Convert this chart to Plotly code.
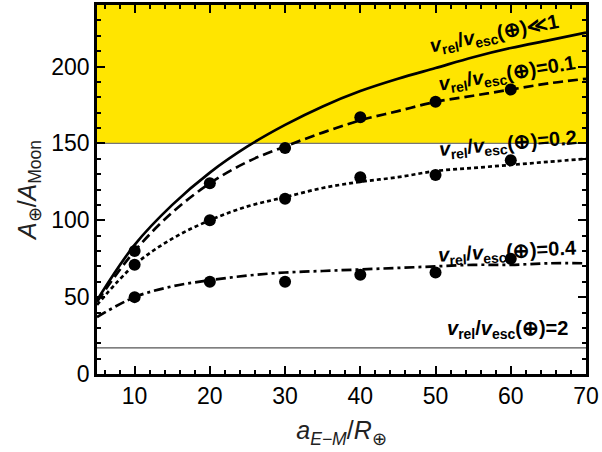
import plotly.graph_objects as go

# sampled curve x positions
x_curve = [5, 10, 15, 20, 25, 30, 35, 40, 45, 50, 55, 60, 65, 70]
# curves
y_ll1 = [48, 84, 110, 131, 148, 162, 174, 184, 192, 199, 206, 212, 217, 222]
y_01 = [47, 80, 105, 124, 138, 148, 157, 165, 171, 177, 181, 185, 189, 192]
y_02 = [45, 71, 88, 100, 109, 115, 121, 125, 128, 132, 134, 136, 138, 140]
y_04 = [37, 50, 57, 61, 64, 66, 67, 68, 69, 70, 71, 71, 72, 72]
y_2 = [17, 17]
x_2 = [5, 70]

# simulation points
x_pts = [10, 20, 30, 40, 50, 60]
p_01 = [80, 124, 147, 167, 177, 185]
p_02 = [71, 100, 114, 128, 129.5, 139]
p_04 = [50, 60, 60, 64.5, 66, 75]

labels = [
    "<i>v</i><sub>rel</sub>/<i>v</i><sub>esc</sub>(⊕)≪1",
    "<i>v</i><sub>rel</sub>/<i>v</i><sub>esc</sub>(⊕)=0.1",
    "<i>v</i><sub>rel</sub>/<i>v</i><sub>esc</sub>(⊕)=0.2",
    "<i>v</i><sub>rel</sub>/<i>v</i><sub>esc</sub>(⊕)=0.4",
    "<i>v</i><sub>rel</sub>/<i>v</i><sub>esc</sub>(⊕)=2",
]
label_x = [57.9, 59.5, 59.6, 59.6, 59.6]
label_y = [221, 195, 149, 79, 29]
label_angle = [-11, -9, -5, -3, 0]

FONT = "Liberation Sans"

fig = go.Figure()

fig.add_shape(type="rect", xref="x", yref="y", x0=5, x1=70, y0=150, y1=240,
              fillcolor="#FFE500", line=dict(width=0), layer="below")
fig.add_shape(type="line", xref="x", yref="y", x0=5, x1=70, y0=150, y1=150,
              line=dict(color="#777777", width=1.2), layer="below")

fig.add_trace(go.Scatter(x=x_2, y=y_2, mode="lines",
                         line=dict(color="#555555", width=1.2)))
fig.add_trace(go.Scatter(x=x_curve, y=y_ll1, mode="lines", line_shape="spline",
                         line=dict(color="black", width=2.7)))
fig.add_trace(go.Scatter(x=x_curve, y=y_01, mode="lines", line_shape="spline",
                         line=dict(color="black", width=2.7, dash="10px,5px")))
fig.add_trace(go.Scatter(x=x_curve, y=y_02, mode="lines", line_shape="spline",
                         line=dict(color="black", width=2.7, dash="4px,3px")))
fig.add_trace(go.Scatter(x=x_curve, y=y_04, mode="lines", line_shape="spline",
                         line=dict(color="black", width=2.7, dash="10px,4px,3px,4px")))
for p in (p_01, p_02, p_04):
    fig.add_trace(go.Scatter(x=x_pts, y=p, mode="markers",
                             marker=dict(color="black", size=12)))

for t, lx, ly, ang in zip(labels, label_x, label_y, label_angle):
    fig.add_annotation(x=lx, y=ly, xref="x", yref="y", text="<b>" + t + "</b>",
                       showarrow=False, textangle=ang,
                       font=dict(family=FONT, size=20, color="black"))

axis_common = dict(
    showline=True, linecolor="black", linewidth=2.5, mirror="ticks",
    ticks="inside", ticklen=8, tickwidth=2, tickcolor="black",
    showgrid=False, zeroline=False, automargin=False,
    tickfont=dict(family=FONT, size=23, color="black"),
)

fig.update_xaxes(range=[5, 70], tickvals=[10, 20, 30, 40, 50, 60, 70],
                 minor=dict(ticks="inside", ticklen=4, tickwidth=1.5, dtick=2,
                            tick0=0, tickcolor="black", showgrid=False),
                 title=dict(text="<i>a</i><sub><i>E−M</i></sub>/<i>R</i><sub>⊕</sub>",
                            font=dict(family=FONT, size=25, color="#222222"),
                            standoff=14),
                 **axis_common)
fig.update_yaxes(range=[0, 240], tickvals=[0, 50, 100, 150, 200],
                 minor=dict(ticks="inside", ticklen=4, tickwidth=1.5, dtick=10,
                            tick0=0, tickcolor="black", showgrid=False),
                 title=dict(text="<i>A</i><sub>⊕</sub>/<i>A</i><sub>Moon</sub>",
                            font=dict(family=FONT, size=25, color="#222222"),
                            standoff=8),
                 **axis_common)

fig.update_layout(
    width=602, height=452,
    margin=dict(l=97, r=16, t=5, b=78),
    plot_bgcolor="white", paper_bgcolor="white",
    showlegend=False,
    font=dict(family=FONT),
)

fig.write_html("out.html", config={"displayModeBar": False},
               post_script="document.body.style.margin='0';"
                           "document.body.style.overflow='hidden';")
